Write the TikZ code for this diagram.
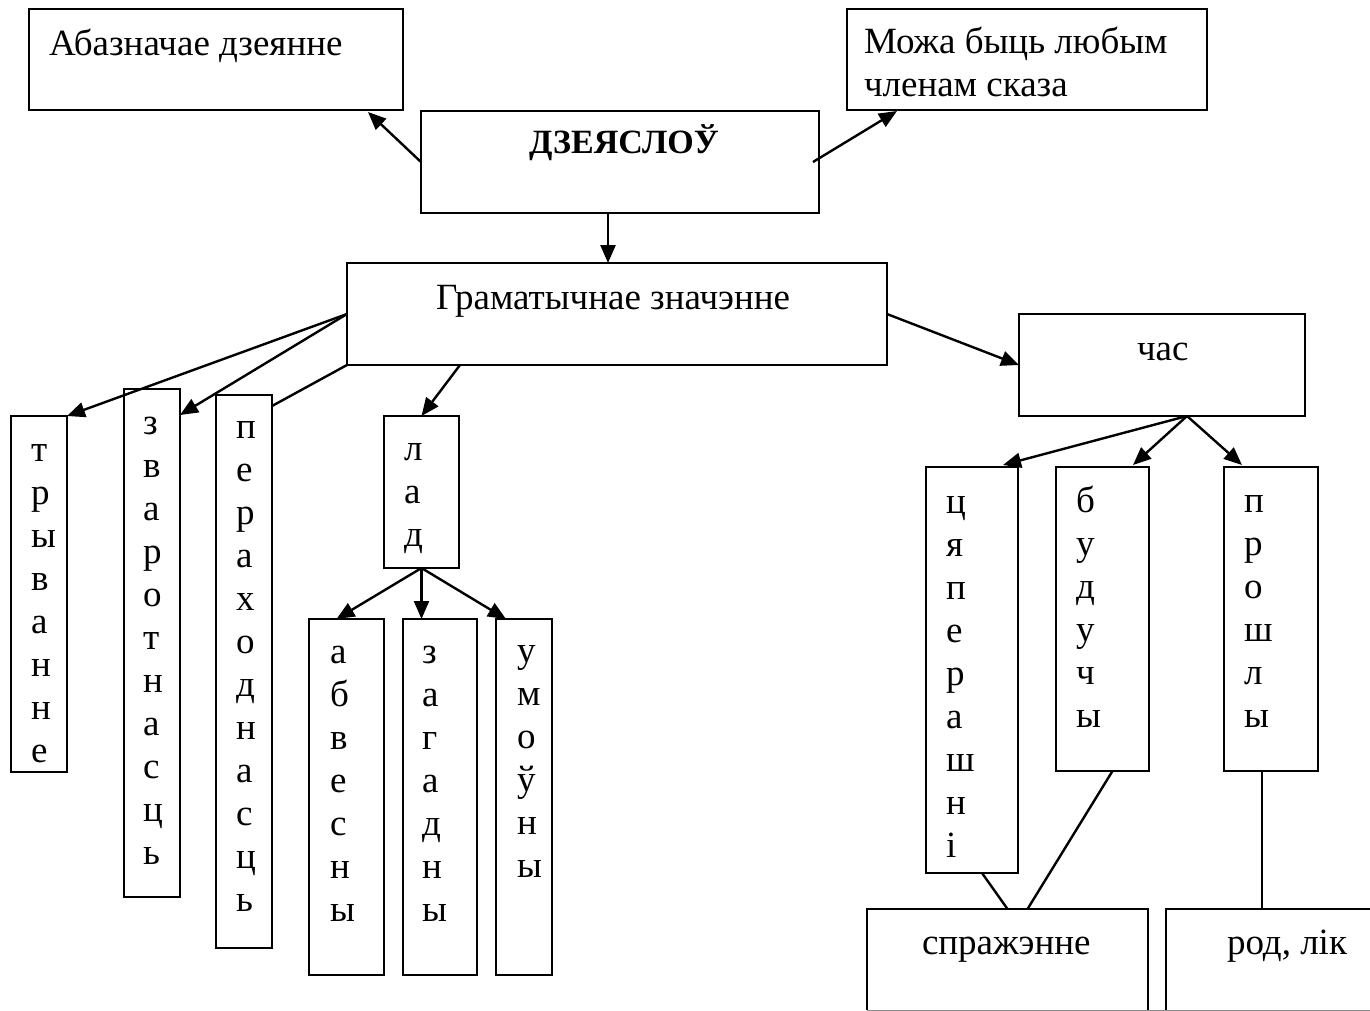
\documentclass[tikz,border=0pt]{standalone}
\usepackage{fontspec}
\setmainfont{Liberation Serif}
\usetikzlibrary{arrows.meta,calc}
\newcommand\fs{\fontsize{37}{43}\selectfont}
\newcommand\fb{\fontsize{34}{43}\selectfont\bfseries}
\begin{document}
\begin{tikzpicture}[x=1pt,y=-1pt,
  box/.style={draw, line width=2.2pt, inner sep=0pt, outer sep=0pt, anchor=north west},
  openbox/.style={inner sep=0pt, outer sep=0pt, anchor=north west},
  edge/.style={line width=2.2pt},
  txt/.style={inner sep=0pt, outer sep=0pt, anchor=base west, font=\fs},
  vtxt/.style={inner sep=0pt, outer sep=0pt, anchor=north west, align=left, font=\fs},
  arr/.style={line width=2.4pt, -{Triangle[length=18pt,width=15pt]}},
  ln/.style={line width=2.4pt}]
\useasboundingbox[fill=white] (0,0) rectangle (1370,1010);
% boxes
\node[box, minimum width=374pt, minimum height=101pt] (A) at (29,9) {};
\node[box, minimum width=360pt, minimum height=101pt] (B) at (847,9) {};
\node[box, minimum width=398pt, minimum height=102pt] (C) at (421,111) {};
\node[box, minimum width=540pt, minimum height=102pt] (D) at (347,263) {};
\node[box, minimum width=286pt, minimum height=102pt] (H) at (1019,314) {};
\node[box, minimum width=56pt, minimum height=356pt] (T) at (11,416) {};
\node[box, minimum width=56pt, minimum height=508pt] (Z) at (124,389) {};
\node[box, minimum width=56pt, minimum height=553pt] (P) at (216,395) {};
\node[box, minimum width=75pt, minimum height=152pt] (L) at (384,416) {};
\node[box, minimum width=75pt, minimum height=356pt] (AB) at (309,619) {};
\node[box, minimum width=74pt, minimum height=356pt] (ZG) at (403,619) {};
\node[box, minimum width=56pt, minimum height=356pt] (UM) at (496,619) {};
\node[box, minimum width=92pt, minimum height=406pt] (CP) at (926,467) {};
\node[box, minimum width=93pt, minimum height=304pt] (BU) at (1056,467) {};
\node[box, minimum width=94pt, minimum height=304pt] (PR) at (1224,467) {};
\node[openbox, minimum width=281pt, minimum height=101pt] (S) at (867,909) {};
\node[openbox, minimum width=204pt, minimum height=101pt] (R) at (1166,909) {};
\draw[edge] (S.south west) |- (S.north east) -- (S.south east);
\draw[edge] (R.south west) |- (R.north east);
\draw[line width=0.8pt, black!45] (S.south west) -- (R.south east);
% texts
\node[txt] (At) at (49,55) {Абазначае дзеянне};
\node[vtxt] (Bt) at (864,23) {\strut Можа быць любым\\членам сказа};
\node[txt, font=\fb] (Ct) at (529,153) {ДЗЕЯСЛОЎ};
\node[txt] (Dt) at (436,309) {Граматычнае значэнне};
\node[txt] (Ht) at (1137,360) {час};
\node[txt] (St) at (922,954) {спражэнне};
\node[txt] (Rt) at (1227,954) {род, лік};
\node[vtxt] (Tt) at (31,431) {\strut т\\р\\ы\\в\\а\\н\\н\\е};
\node[vtxt] (Zt) at (143,404) {\strut з\\в\\а\\р\\о\\т\\н\\а\\с\\ц\\ь};
\node[vtxt] (Pt) at (236,408) {\strut п\\е\\р\\а\\х\\о\\д\\н\\а\\с\\ц\\ь};
\node[vtxt] (Lt) at (404,430) {\strut л\\а\\д};
\node[vtxt] (ABt) at (330,633) {\strut а\\б\\в\\е\\с\\н\\ы};
\node[vtxt] (ZGt) at (422,633) {\strut з\\а\\г\\а\\д\\н\\ы};
\node[vtxt] (UMt) at (517,632) {\strut у\\м\\о\\ў\\н\\ы};
\node[vtxt] (CPt) at (946,483) {\strut ц\\я\\п\\е\\р\\а\\ш\\н\\і};
\node[vtxt] (BUt) at (1076,482) {\strut б\\у\\д\\у\\ч\\ы};
\node[vtxt] (PRt) at (1244,482) {\strut п\\р\\о\\ш\\л\\ы};
% connectors
\draw[arr] (C.west) -- ($(A.south east)+(-35,2)$);
\draw[arr] ($(C.east)+(-6,0)$) -- ($(B.south west)+(50,1)$);
\draw[arr] ($(C.south)+(-12,0)$) coordinate (c1) -- (c1 |- D.north);
\draw[arr] (D.east) -- (H.west);
\draw[arr] (D.west) -- (T.north east);
\draw[arr] (D.west) -- ($(Z.north east)+(0,26)$);
\draw[ln] (D.south west) -- ($(P.north east)+(0,11)$);
\draw[arr] ($(D.south west)+(113,0)$) -- (L.north);
\draw[arr] (L.south) -- ($(AB.north)+(-10,0)$);
\draw[arr] (L.south) -- (L.south |- ZG.north);
\draw[arr] (L.south) -- ($(UM.north west)+(10,0)$);
\draw[arr] ($(H.south)+(25,0)$) -- ($(CP.north east)+(-15,-2)$);
\draw[arr] ($(H.south)+(25,0)$) -- ($(BU.north east)+(-16,-2)$);
\draw[arr] ($(H.south)+(25,0)$) -- ($(PR.north west)+(18,-2)$);
\draw[ln] ($(CP.south)+(10,0)$) -- (S.north);
\draw[ln] ($(BU.south)+(10,0)$) -- ($(S.north)+(20,0)$);
\draw[ln] ($(PR.south)+(-9,0)$) coordinate (p1) -- (p1 |- R.north);
\end{tikzpicture}
\end{document}
